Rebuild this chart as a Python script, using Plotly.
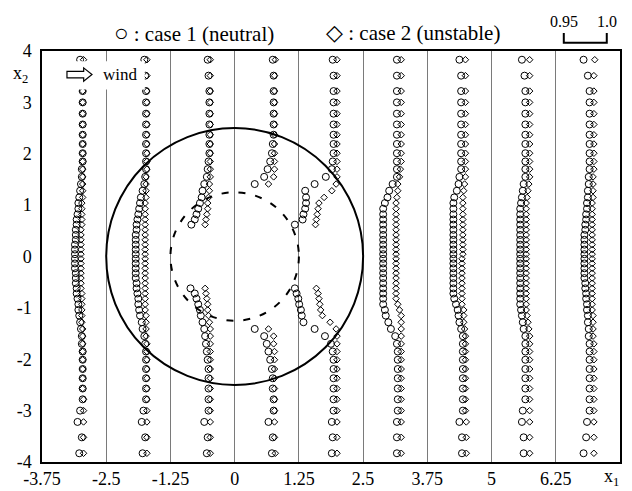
import plotly.graph_objects as go

# ---------------- data ----------------
# grid levels (x2) of the profiles, bottom -> top
Y_LEVELS = [-3.83, -3.52, -3.22, -3.0, -2.78, -2.57, -2.37, -2.19, -2.01, -1.85,
            -1.70, -1.55, -1.41, -1.28, -1.15, -1.04, -0.93, -0.82, -0.72, -0.62,
            -0.52, -0.42, -0.325, -0.23, -0.135, -0.045,
            0.045, 0.135, 0.23, 0.325, 0.42, 0.52, 0.62, 0.72, 0.82, 0.93,
            1.04, 1.15, 1.28, 1.41, 1.55, 1.70, 1.85, 2.01, 2.19, 2.37,
            2.57, 2.78, 3.0, 3.22, 3.52, 3.83]

STRIP_LEFT = [-3.75, -2.5, -1.25, 0.0, 1.25, 2.5, 3.75, 5.0, 6.25]
X_TICKS = [-3.75, -2.5, -1.25, 0, 1.25, 2.5, 3.75, 5, 6.25]
X_TICK_TEXT = ["-3.75", "-2.5", "-1.25", "0", "1.25", "2.5", "3.75", "5", "6.25"]
Y_TICKS = [-4, -3, -2, -1, 0, 1, 2, 3, 4]
Y_TICK_TEXT = ["-4", "-3", "-2", "-1", "0", "1", "2", "3", "4"]
SCALE_BAR_U = [0.95, 1.0]
R_OUTER = 2.5
R_INNER = 1.25

N = None

# case 1 (neutral), velocity u at each level, one list per strip
C1_S1 = [0.984, 0.987, 0.982, 0.985, 0.988, 0.988, 0.988, 0.988, 0.988, 0.988, 0.987, 0.987, 0.986,
         0.985, 0.984, 0.983, 0.983, 0.982, 0.981, 0.981, 0.980, 0.980, 0.980, 0.979, 0.979, 0.979,
         0.979, 0.979, 0.979, 0.980, 0.980, 0.980, 0.981, 0.981, 0.982, 0.983, 0.983, 0.984, 0.985,
         0.986, 0.987, 0.987, 0.988, 0.988, 0.988, 0.988, 0.988, 0.988, 0.988, 0.988, 0.987, 0.985]
C1_S2 = [0.983, 0.986, 0.982, 0.984, 0.987, 0.987, 0.987, 0.987, 0.987, 0.987, 0.986, 0.985, 0.983,
         0.982, 0.980, 0.979, 0.978, 0.978, 0.977, 0.976, 0.976, 0.975, 0.975, 0.975, 0.975, 0.975,
         0.975, 0.975, 0.975, 0.975, 0.975, 0.976, 0.976, 0.977, 0.978, 0.979, 0.980, 0.981, 0.983,
         0.985, 0.986, 0.987, 0.987, 0.987, 0.987, 0.987, 0.987, 0.987, 0.987, 0.987, 0.986, 0.985]
C1_S3 = [0.983, 0.984, 0.980, 0.985, 0.985, 0.985, 0.985, 0.985, 0.984, 0.983, 0.982, 0.981, 0.980,
         0.978, 0.976, 0.975, 0.973, 0.971, 0.969, 0.964, N, N, N, N, N, N,
         N, N, N, N, N, N, 0.965, 0.969, 0.971, 0.973, 0.975, 0.977, 0.978,
         0.980, 0.983, 0.984, 0.985, 0.986, 0.986, 0.986, 0.986, 0.986, 0.986, 0.986, 0.985, 0.984]
C1_S4 = [0.984, 0.985, 0.980, 0.986, 0.986, 0.985, 0.985, 0.984, 0.982, 0.980, 0.978, 0.975, 0.964,
         N, N, N, N, N, N, N, N, N, N, N, N, N,
         N, N, N, N, N, N, N, N, N, N, N, N, N,
         0.964, 0.975, 0.979, 0.982, 0.984, 0.985, 0.986, 0.986, 0.986, 0.986, 0.986, 0.986, 0.985]
C1_S5 = [0.979, 0.980, 0.979, 0.981, 0.981, 0.981, 0.981, 0.981, 0.981, 0.980, 0.978, 0.971, 0.959,
         0.946, 0.944, 0.943, 0.941, 0.940, 0.938, 0.936, N, N, N, N, N, N,
         N, N, N, N, N, N, 0.936, 0.945, 0.946, 0.948, 0.949, 0.949, 0.948,
         0.959, 0.972, 0.979, 0.980, 0.981, 0.981, 0.981, 0.981, 0.981, 0.981, 0.981, 0.981, 0.980]
C1_S6 = [0.980, 0.980, 0.980, 0.981, 0.981, 0.981, 0.981, 0.981, 0.981, 0.981, 0.980, 0.978, 0.973,
         0.970, 0.967, 0.966, 0.964, 0.964, 0.964, 0.964, 0.964, 0.964, 0.964, 0.964, 0.964, 0.964,
         0.964, 0.964, 0.964, 0.964, 0.964, 0.964, 0.964, 0.964, 0.964, 0.964, 0.966, 0.969, 0.971,
         0.975, 0.980, 0.980, 0.980, 0.980, 0.980, 0.980, 0.980, 0.980, 0.980, 0.980, 0.980, 0.980]
C1_S7 = [0.981, 0.981, 0.978, 0.982, 0.982, 0.982, 0.982, 0.982, 0.982, 0.982, 0.982, 0.982, 0.980,
         0.978, 0.977, 0.976, 0.974, 0.972, 0.971, 0.971, 0.971, 0.971, 0.971, 0.971, 0.971, 0.971,
         0.971, 0.971, 0.971, 0.971, 0.971, 0.971, 0.971, 0.971, 0.971, 0.971, 0.971, 0.972, 0.975,
         0.977, 0.978, 0.980, 0.980, 0.980, 0.980, 0.980, 0.980, 0.980, 0.980, 0.980, 0.980, 0.978]
C1_S8 = [0.978, 0.978, 0.976, 0.977, 0.980, 0.980, 0.980, 0.980, 0.980, 0.980, 0.980, 0.980, 0.978,
         0.977, 0.976, 0.975, 0.974, 0.974, 0.974, 0.974, 0.974, 0.974, 0.974, 0.974, 0.974, 0.974,
         0.974, 0.974, 0.974, 0.974, 0.974, 0.974, 0.974, 0.974, 0.974, 0.974, 0.975, 0.976, 0.977,
         0.978, 0.980, 0.980, 0.980, 0.980, 0.980, 0.980, 0.980, 0.980, 0.980, 0.980, 0.979, 0.976]
C1_S9 = [0.973, 0.976, 0.977, 0.980, 0.980, 0.980, 0.980, 0.980, 0.980, 0.980, 0.980, 0.979, 0.979,
         0.978, 0.978, 0.977, 0.977, 0.976, 0.976, 0.975, 0.975, 0.974, 0.974, 0.974, 0.974, 0.974,
         0.974, 0.974, 0.974, 0.974, 0.974, 0.975, 0.975, 0.976, 0.976, 0.977, 0.977, 0.978, 0.978,
         0.979, 0.979, 0.980, 0.980, 0.980, 0.980, 0.980, 0.980, 0.980, 0.980, 0.980, 0.978, 0.973]

# case 2 (unstable)
C2_S1 = [0.989, 0.989, 0.989, 0.989, 0.989, 0.988, 0.988, 0.988, 0.988, 0.988, 0.988, 0.988, 0.988,
         0.987, 0.987, 0.987, 0.987, 0.987, 0.987, 0.986, 0.986, 0.986, 0.986, 0.986, 0.986, 0.986,
         0.986, 0.986, 0.986, 0.986, 0.986, 0.986, 0.987, 0.987, 0.987, 0.987, 0.987, 0.988, 0.988,
         0.988, 0.988, 0.988, 0.988, 0.988, 0.988, 0.988, 0.988, 0.988, 0.988, 0.988, 0.989, 0.989]
C2_S2 = [0.988, 0.988, 0.988, 0.988, 0.988, 0.988, 0.988, 0.988, 0.988, 0.988, 0.988, 0.987, 0.987,
         0.987, 0.987, 0.986, 0.986, 0.986, 0.986, 0.986, 0.986, 0.986, 0.986, 0.986, 0.986, 0.986,
         0.986, 0.986, 0.986, 0.986, 0.986, 0.986, 0.986, 0.986, 0.986, 0.986, 0.986, 0.987, 0.987,
         0.987, 0.987, 0.988, 0.988, 0.988, 0.988, 0.988, 0.988, 0.988, 0.988, 0.988, 0.988, 0.988]
C2_S3 = [0.987, 0.987, 0.987, 0.987, 0.987, 0.987, 0.987, 0.987, 0.987, 0.987, 0.987, 0.987, 0.987,
         0.986, 0.985, 0.984, 0.984, 0.983, 0.982, 0.981, N, N, N, N, N, N,
         N, N, N, N, N, N, 0.981, 0.982, 0.983, 0.984, 0.984, 0.985, 0.986,
         0.986, 0.987, 0.987, 0.987, 0.987, 0.987, 0.987, 0.987, 0.987, 0.987, 0.987, 0.987, 0.987]
C2_S4 = [0.988, 0.987, 0.987, 0.987, 0.987, 0.987, 0.987, 0.987, 0.987, 0.987, 0.986, 0.986, 0.980,
         N, N, N, N, N, N, N, N, N, N, N, N, N,
         N, N, N, N, N, N, N, N, N, N, N, N, N,
         0.980, 0.986, 0.987, 0.987, 0.987, 0.987, 0.987, 0.987, 0.987, 0.987, 0.987, 0.987, 0.988]
C2_S5 = [0.985, 0.985, 0.985, 0.985, 0.985, 0.985, 0.985, 0.985, 0.985, 0.985, 0.985, 0.985, 0.984,
         0.977, 0.968, 0.966, 0.965, 0.964, 0.963, 0.961, N, N, N, N, N, N,
         N, N, N, N, N, N, 0.960, 0.961, 0.962, 0.963, 0.964, 0.970, 0.979,
         0.984, 0.985, 0.985, 0.985, 0.985, 0.985, 0.985, 0.985, 0.985, 0.985, 0.985, 0.985, 0.985]
C2_S6 = [0.985, 0.985, 0.985, 0.985, 0.985, 0.985, 0.985, 0.985, 0.985, 0.985, 0.985, 0.985, 0.985,
         0.985, 0.985, 0.983, 0.981, 0.979, 0.979, 0.979, 0.979, 0.979, 0.979, 0.979, 0.979, 0.979,
         0.979, 0.979, 0.979, 0.979, 0.979, 0.979, 0.979, 0.979, 0.979, 0.979, 0.979, 0.980, 0.981,
         0.981, 0.983, 0.984, 0.985, 0.985, 0.985, 0.985, 0.985, 0.985, 0.985, 0.985, 0.985, 0.985]
C2_S7 = [0.986, 0.986, 0.986, 0.985, 0.985, 0.985, 0.985, 0.985, 0.985, 0.985, 0.985, 0.985, 0.984,
         0.983, 0.983, 0.983, 0.981, 0.981, 0.981, 0.981, 0.981, 0.981, 0.981, 0.981, 0.981, 0.981,
         0.982, 0.982, 0.982, 0.982, 0.982, 0.982, 0.982, 0.982, 0.982, 0.982, 0.982, 0.982, 0.983,
         0.984, 0.985, 0.985, 0.985, 0.985, 0.985, 0.985, 0.985, 0.985, 0.985, 0.985, 0.985, 0.985]
C2_S8 = [0.985, 0.985, 0.985, 0.985, 0.985, 0.985, 0.985, 0.985, 0.985, 0.985, 0.985, 0.985, 0.984,
         0.983, 0.982, 0.981, 0.981, 0.981, 0.981, 0.981, 0.981, 0.981, 0.981, 0.981, 0.981, 0.981,
         0.981, 0.981, 0.981, 0.981, 0.981, 0.981, 0.981, 0.981, 0.981, 0.981, 0.981, 0.982, 0.983,
         0.984, 0.985, 0.985, 0.985, 0.985, 0.985, 0.985, 0.985, 0.985, 0.985, 0.985, 0.985, 0.985]
C2_S9 = [0.985, 0.985, 0.985, 0.985, 0.985, 0.985, 0.985, 0.985, 0.985, 0.985, 0.985, 0.984, 0.984,
         0.984, 0.984, 0.983, 0.983, 0.983, 0.983, 0.983, 0.983, 0.983, 0.983, 0.983, 0.983, 0.983,
         0.983, 0.983, 0.983, 0.983, 0.983, 0.983, 0.983, 0.983, 0.983, 0.983, 0.983, 0.984, 0.984,
         0.984, 0.984, 0.985, 0.985, 0.985, 0.985, 0.985, 0.985, 0.985, 0.985, 0.985, 0.985, 0.986]

CASE1 = [C1_S1, C1_S2, C1_S3, C1_S4, C1_S5, C1_S6, C1_S7, C1_S8, C1_S9]
CASE2 = [C2_S1, C2_S2, C2_S3, C2_S4, C2_S5, C2_S6, C2_S7, C2_S8, C2_S9]

# velocity -> x1 mapping inside a strip (given by the 0.95-1.0 scale bar)
U_REF = 0.95
U_OFFSET = 0.156      # x1 distance from strip's left line to u = 0.95
U_SCALE = 16.73       # x1 units per unit of velocity

X_RANGE = [-3.75, 7.5]
Y_RANGE = [-4, 4]


def u_to_x(u, k):
    return STRIP_LEFT[k] + U_OFFSET + (u - U_REF) * U_SCALE


def build(case):
    xs, ys = [], []
    for k, prof in enumerate(case):
        for u, y in zip(prof, Y_LEVELS):
            if u is None:
                continue
            xs.append(u_to_x(u, k))
            ys.append(y)
    return xs, ys


SERIF = "Liberation Serif, Times New Roman, serif"

fig = go.Figure()
x1, y1 = build(CASE1)
x2, y2 = build(CASE2)
fig.add_trace(go.Scatter(x=x1, y=y1, mode="markers", name="case 1 (neutral)",
                         marker=dict(symbol="circle-open", size=7, color="black",
                                     line=dict(width=1, color="black")),
                         showlegend=False))
fig.add_trace(go.Scatter(x=x2, y=y2, mode="markers", name="case 2 (unstable)",
                         marker=dict(symbol="diamond-open", size=5, color="black",
                                     line=dict(width=1, color="black")),
                         showlegend=False))

shapes = [
    dict(type="circle", xref="x", yref="y", x0=-R_OUTER, x1=R_OUTER, y0=-R_OUTER, y1=R_OUTER,
         line=dict(color="black", width=2)),
    dict(type="circle", xref="x", yref="y", x0=-R_INNER, x1=R_INNER, y0=-R_INNER, y1=R_INNER,
         line=dict(color="black", width=2, dash="7px,10px")),
    # white box behind the wind label
    dict(type="rect", xref="x", yref="y", x0=-3.40, x1=-1.75, y0=3.25, y1=3.80,
         fillcolor="white", line=dict(width=0), layer="above"),
]
# hollow wind arrow
ax0, ax1, ax2, ay, ah, aH = -3.264, -2.939, -2.777, 3.541, 0.064, 0.13
shapes.append(dict(type="path", xref="x", yref="y",
                   path=(f"M{ax0},{ay-ah} L{ax1},{ay-ah} L{ax1},{ay-aH} L{ax2},{ay} "
                         f"L{ax1},{ay+aH} L{ax1},{ay+ah} L{ax0},{ay+ah} Z"),
                   fillcolor="white", line=dict(color="black", width=1.2), layer="above"))


def xp(x):
    return (x - X_RANGE[0]) / (X_RANGE[1] - X_RANGE[0])


# scale bar (drawn with the same u -> x mapping on the last strip)
bx0 = xp(u_to_x(SCALE_BAR_U[0], 8))
bx1 = xp(u_to_x(SCALE_BAR_U[1], 8))
shapes.append(dict(type="path", xref="paper", yref="paper",
                   path=f"M{bx0},1.044 L{bx0},1.020 L{bx1},1.020 L{bx1},1.044",
                   line=dict(color="black", width=2)))


def ann(x, y, text, size, xref="paper", yref="paper"):
    return dict(xref=xref, yref=yref, x=x, y=y, text=text, showarrow=False,
                xanchor="center", yanchor="middle",
                font=dict(family=SERIF, size=size, color="black"))


annotations = [
    ann(-2.23, 3.541, "wind", 17, "x", "y"),
    ann(bx0, 1.071, "0.95", 16),
    ann(bx1, 1.071, "1.0", 16),
    ann(0.263, 1.044, "<span style='font-size:24px'>○</span> : case 1 (neutral)", 21),
    ann(0.642, 1.044, "<span style='font-size:22px'>◇</span> : case 2 (unstable)", 21),
    ann(-0.038, 0.942, "x<sub>2</sub>", 18),
    ann(0.986, -0.038, "x<sub>1</sub>", 18),
]

# the page body adds an 8 px offset, so the plot area is placed 8 px up/left
fig.update_layout(
    width=632, height=491,
    margin=dict(l=34, r=20, t=43, b=37, autoexpand=False),
    paper_bgcolor="white", plot_bgcolor="white",
    shapes=shapes, annotations=annotations,
    xaxis=dict(range=X_RANGE, tickvals=X_TICKS, ticktext=X_TICK_TEXT, automargin=False,
               showgrid=True, gridcolor="#7a7a7a", gridwidth=1, zeroline=False,
               showline=True, linecolor="black", linewidth=1.5, mirror=True,
               ticks="", ticklabelstandoff=0,
               tickfont=dict(family=SERIF, size=18, color="black")),
    yaxis=dict(range=Y_RANGE, tickvals=Y_TICKS, ticktext=Y_TICK_TEXT, automargin=False,
               showgrid=False, zeroline=False,
               showline=True, linecolor="black", linewidth=1.5, mirror=True,
               ticks="", ticklabelstandoff=5,
               tickfont=dict(family=SERIF, size=18, color="black")),
)

fig.write_html("out.html")
